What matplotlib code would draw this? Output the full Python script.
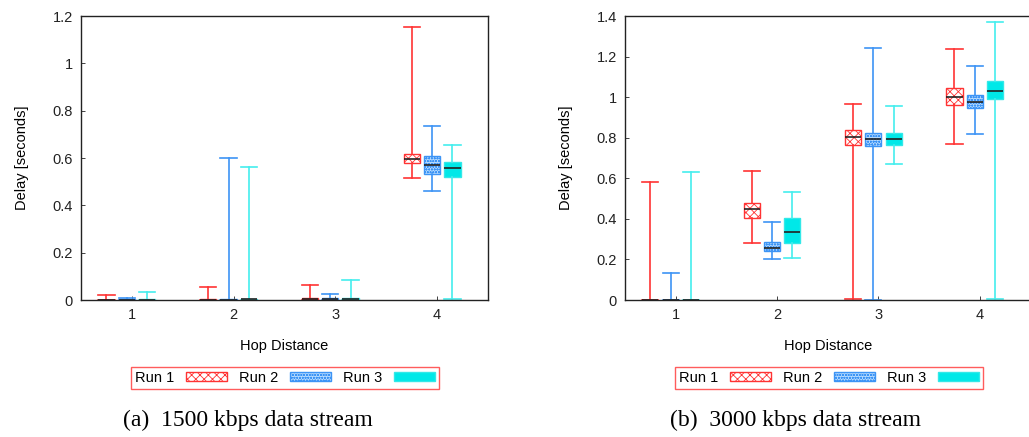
import matplotlib
matplotlib.use("Agg")
import matplotlib.pyplot as plt
from matplotlib.patches import Patch

plt.rcParams['font.family'] = ['Liberation Sans', 'DejaVu Sans']
plt.rcParams['hatch.linewidth'] = 0.6

hops = [1, 2, 3, 4]
runs = ["Run 1", "Run 2", "Run 3"]

# ---- (a) 1500 kbps: per run, per hop: whisker low, q1, median, q3, whisker high
a_run1_low = [0.0, 0.0, 0.0, 0.515]
a_run1_q1 = [0.0, 0.0, 0.001, 0.579]
a_run1_med = [0.001, 0.002, 0.004, 0.597]
a_run1_q3 = [0.002, 0.004, 0.007, 0.617]
a_run1_high = [0.022, 0.055, 0.062, 1.152]

a_run2_low = [0.0, 0.0, 0.0, 0.462]
a_run2_q1 = [0.0, 0.0, 0.002, 0.532]
a_run2_med = [0.001, 0.002, 0.005, 0.569]
a_run2_q3 = [0.003, 0.004, 0.008, 0.608]
a_run2_high = [0.010, 0.600, 0.025, 0.734]

a_run3_low = [0.0, 0.0, 0.0, 0.005]
a_run3_q1 = [0.0, 0.001, 0.002, 0.520]
a_run3_med = [0.001, 0.003, 0.005, 0.556]
a_run3_q3 = [0.003, 0.005, 0.009, 0.584]
a_run3_high = [0.035, 0.560, 0.083, 0.655]

# ---- (b) 3000 kbps
b_run1_low = [0.0, 0.280, 0.005, 0.767]
b_run1_q1 = [0.0, 0.406, 0.762, 0.960]
b_run1_med = [0.001, 0.448, 0.802, 1.002]
b_run1_q3 = [0.002, 0.477, 0.838, 1.046]
b_run1_high = [0.583, 0.634, 0.965, 1.239]

b_run2_low = [0.0, 0.201, 0.002, 0.817]
b_run2_q1 = [0.0, 0.243, 0.760, 0.945]
b_run2_med = [0.001, 0.255, 0.792, 0.976]
b_run2_q3 = [0.002, 0.286, 0.822, 1.012]
b_run2_high = [0.132, 0.383, 1.240, 1.152]

b_run3_low = [0.0, 0.207, 0.669, 0.005]
b_run3_q1 = [0.0, 0.282, 0.762, 0.992]
b_run3_med = [0.001, 0.335, 0.792, 1.030]
b_run3_q3 = [0.002, 0.406, 0.822, 1.079]
b_run3_high = [0.631, 0.531, 0.955, 1.372]

panel_a = [
    (a_run1_low, a_run1_q1, a_run1_med, a_run1_q3, a_run1_high),
    (a_run2_low, a_run2_q1, a_run2_med, a_run2_q3, a_run2_high),
    (a_run3_low, a_run3_q1, a_run3_med, a_run3_q3, a_run3_high),
]
panel_b = [
    (b_run1_low, b_run1_q1, b_run1_med, b_run1_q3, b_run1_high),
    (b_run2_low, b_run2_q1, b_run2_med, b_run2_q3, b_run2_high),
    (b_run3_low, b_run3_q1, b_run3_med, b_run3_q3, b_run3_high),
]

offsets = [-0.25, -0.05, 0.15]
box_w = 0.16
line_cols = ['#ff3333', '#3d94f5', '#44eeee']
face_cols = ['white', '#b8dcff', '#00e8e8']
edge_cols = ['#ff3333', '#3d94f5', '#33e8e8']
hatches = ['xxxx', 'oooooo', None]

fig = plt.figure(figsize=(10.29, 4.37), dpi=100)
ax_a = fig.add_axes([81 / 1029, 137 / 437, 407 / 1029, 284 / 437])
ax_b = fig.add_axes([625 / 1029, 137 / 437, 405.5 / 1029, 284 / 437])


def draw(ax, panel, ymax, yticks, yticklabels):
    for r, (lo, q1, med, q3, hi) in enumerate(panel):
        stats = []
        for i in range(len(hops)):
            stats.append(dict(whislo=lo[i], q1=q1[i], med=med[i], q3=q3[i],
                              whishi=hi[i], fliers=[]))
        pos = [h + offsets[r] for h in hops]
        ax.bxp(stats, positions=pos, widths=box_w, capwidths=box_w,
               patch_artist=True, showfliers=False, manage_ticks=False,
               boxprops=dict(facecolor=face_cols[r], edgecolor=edge_cols[r],
                             linewidth=1.0, hatch=hatches[r]),
               whiskerprops=dict(color=line_cols[r], linewidth=1.2),
               capprops=dict(color=line_cols[r], linewidth=1.2),
               medianprops=dict(color='#222222', linewidth=1.2))
    ax.set_xlim(0.5, 4.5)
    ax.set_ylim(0, ymax)
    ax.set_xticks(hops)
    ax.set_xticklabels([str(h) for h in hops])
    ax.set_yticks(yticks)
    ax.set_yticklabels(yticklabels)
    ax.tick_params(direction='in', length=3, width=0.6, labelsize=10.5,
                   pad=6, colors='#222222', top=False, right=False)
    for s in ax.spines.values():
        s.set_linewidth(1.0)
        s.set_color('#222222')
    ax.set_xlabel("Hop Distance", fontsize=10.5, labelpad=12)
    ax.set_ylabel("Delay [seconds]", fontsize=10.5, labelpad=17)


draw(ax_a, panel_a, 1.2, [0, 0.2, 0.4, 0.6, 0.8, 1.0, 1.2],
     ['0', '0.2', '0.4', '0.6', '0.8', '1', '1.2'])
draw(ax_b, panel_b, 1.4, [0, 0.2, 0.4, 0.6, 0.8, 1.0, 1.2, 1.4],
     ['0', '0.2', '0.4', '0.6', '0.8', '1', '1.2', '1.4'])

handles = [Patch(facecolor=face_cols[r], edgecolor=edge_cols[r], hatch=hatches[r],
                 linewidth=1.0) for r in range(3)]

for cx in (285 / 1029, 829 / 1029):
    leg = fig.legend(handles, runs, loc='center', bbox_to_anchor=(cx, 1 - 378 / 437),
                     ncol=3, markerfirst=False, fancybox=False, frameon=True,
                     fontsize=10.5, handlelength=2.8, handleheight=0.55,
                     handletextpad=0.8, columnspacing=0.85, borderpad=0.25,
                     borderaxespad=0)
    leg.get_frame().set_edgecolor('#ff3333')
    leg.get_frame().set_linewidth(1.0)

fig.text(248 / 1029, 1 - 420 / 437, "(a)  1500 kbps data stream", ha='center', va='center',
         fontsize=17, family=['Liberation Serif', 'DejaVu Serif'])
fig.text(795 / 1029, 1 - 420 / 437, "(b)  3000 kbps data stream", ha='center', va='center',
         fontsize=17, family=['Liberation Serif', 'DejaVu Serif'])

fig.savefig("out.png", dpi=100)
